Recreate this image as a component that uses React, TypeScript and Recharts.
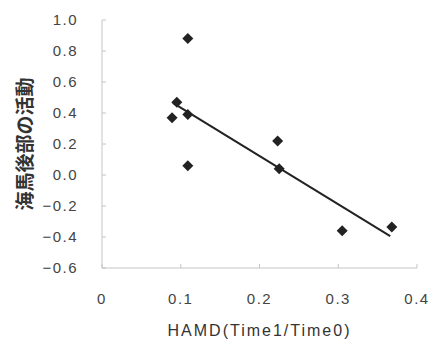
import { ScatterChart, Scatter, XAxis, YAxis, Label } from 'recharts';

// HAMD ratio vs posterior hippocampus activity
const hamd = [0.089, 0.095, 0.109, 0.109, 0.109, 0.223, 0.225, 0.305, 0.368];
const activity = [0.37, 0.47, 0.88, 0.39, 0.06, 0.22, 0.04, -0.36, -0.335];

// regression line end points
const trendX = [0.09, 0.366];
const trendY = [0.465, -0.394];

const xTicks = [0, 0.1, 0.2, 0.3, 0.4];
const yTicks = [-0.6, -0.4, -0.2, 0, 0.2, 0.4, 0.6, 0.8, 1.0];

const points = hamd.map((x, i) => ({ x, y: activity[i] }));
const trend = trendX.map((x, i) => ({ x, y: trendY[i] }));

const tickStyle = { fontSize: 15, fill: '#444', fontFamily: 'Liberation Sans, Arial, sans-serif', letterSpacing: 1.5 };
const axisColor = '#c4c4c4';

function Diamond(props: any) {
  const { cx, cy } = props;
  const r = 5.5;
  return (
    <polygon
      points={`${cx},${cy - r} ${cx + r},${cy} ${cx},${cy + r} ${cx - r},${cy}`}
      fill="#222"
    />
  );
}

function YTitle(props: any) {
  const vb = props.viewBox;
  const cy = vb.y + vb.height / 2;
  return (
    <text
      x={23}
      y={cy}
      transform={`rotate(-90 23 ${cy})`}
      textAnchor="middle"
      dominantBaseline="central"
      fontSize={19}
      fontWeight="bold"
      fill="#333"
      fontFamily="Noto Sans CJK JP, sans-serif"
    >
      海馬後部の活動
    </text>
  );
}

function XTitle(props: any) {
  const vb = props.viewBox;
  return (
    <text
      x={vb.x + vb.width / 2}
      y={336}
      textAnchor="middle"
      fontSize={16}
      letterSpacing={2}
      fill="#333"
      fontFamily="Liberation Sans, Arial, sans-serif"
    >
      HAMD(Time1/Time0)
    </text>
  );
}

export default function App() {
  return (
    <div style={{ position: 'absolute', left: 0, top: 0, background: '#fff' }}>
      <ScatterChart width={429} height={339} margin={{ top: 20, right: 12, bottom: 0, left: 0 }}>
        <XAxis
          type="number"
          dataKey="x"
          domain={[0, 0.4]}
          ticks={xTicks}
          tickFormatter={(v: number) => (v === 0 ? '0' : v.toFixed(1))}
          height={71}
          tickSize={-4}
          tickMargin={29}
          tick={tickStyle}
          stroke={axisColor}
          axisLine={{ stroke: axisColor }}
          tickLine={{ stroke: axisColor }}
        >
          <Label content={XTitle} />
        </XAxis>
        <YAxis
          type="number"
          dataKey="y"
          domain={[-0.6, 1.0]}
          ticks={yTicks}
          tickFormatter={(v: number) => v.toFixed(1).replace('-', '\u2212')}
          width={102}
          tickSize={-4}
          tickMargin={28}
          tick={tickStyle}
          stroke={axisColor}
          axisLine={{ stroke: axisColor }}
          tickLine={{ stroke: axisColor }}
        >
          <Label content={YTitle} />
        </YAxis>
        <Scatter
          data={trend}
          line={{ stroke: '#222', strokeWidth: 2 }}
          shape={() => <g />}
          isAnimationActive={false}
        />
        <Scatter data={points} shape={Diamond} isAnimationActive={false} />
      </ScatterChart>
    </div>
  );
}
